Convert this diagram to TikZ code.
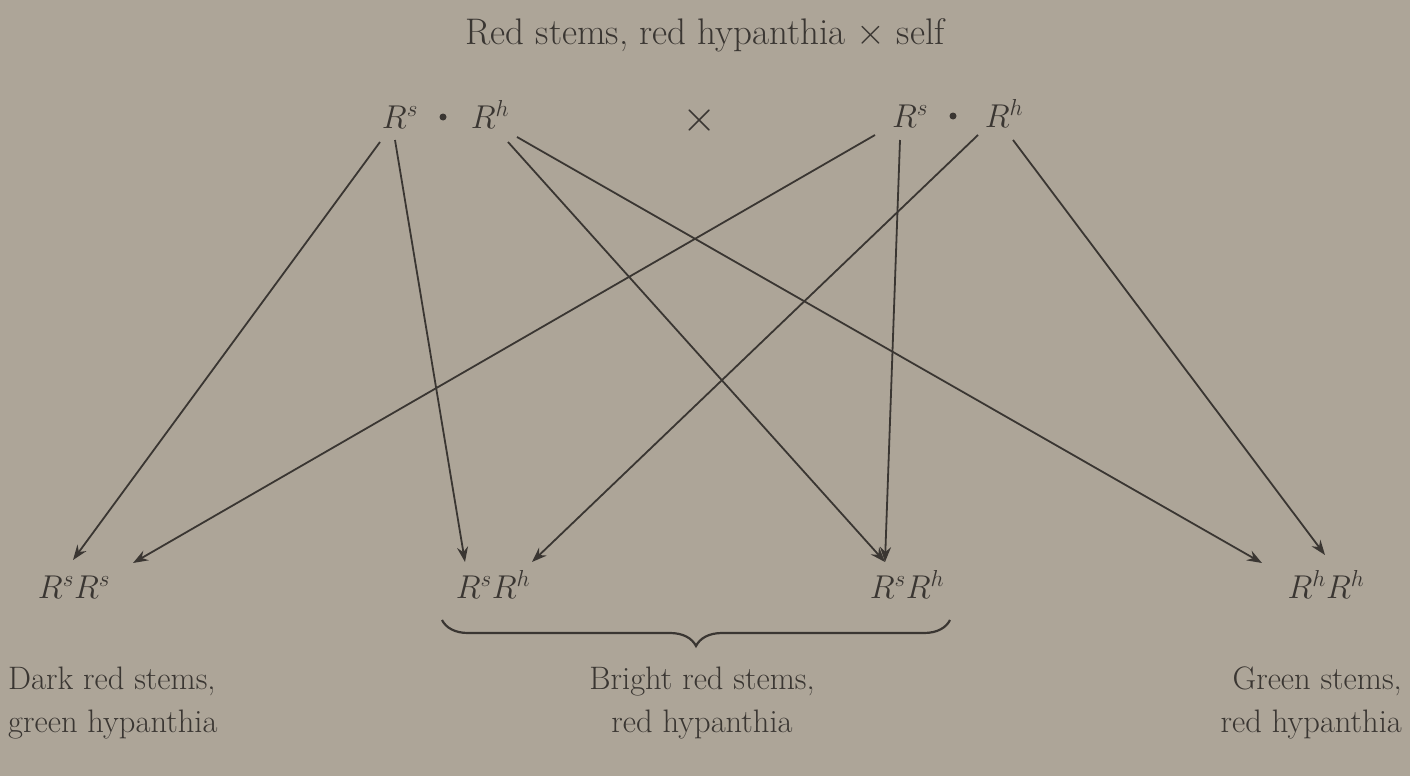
\RequirePackage{fix-cm}
\documentclass[tikz,border=0pt]{standalone}
\usetikzlibrary{arrows.meta,decorations.pathreplacing}
\definecolor{paper}{RGB}{173,165,152}
\definecolor{ink}{RGB}{58,54,50}
\begin{document}
\begin{tikzpicture}[x=1pt,y=-1pt,
  lab/.style={inner sep=0pt,anchor=base,text=ink,font=\fontsize{33}{33}\selectfont},
  txt/.style={inner sep=0pt,text=ink,font=\fontsize{32.5}{43}\selectfont,align=left},
  dotnode/.style={circle,fill=ink,inner sep=0pt,minimum size=7pt},
  arr/.style={draw=ink,line width=1.8pt,-{Stealth[length=15pt,width=11pt,inset=5pt]}}]
\useasboundingbox (0,0) rectangle (1410,776);
\fill[paper] (0,0) rectangle (1410,776);
% title
\node[inner sep=0pt,anchor=base,text=ink,font=\fontsize{37}{40}\selectfont] (title) at (705,45) {Red stems, red hypanthia $\times$ self};
% top parents
\node[lab] (tls) at (400,128) {$R^s$};
\node[dotnode] (tld) at (443,117) {};
\node[lab] (tlh) at (490,128) {$R^h$};
\node[lab,font=\fontsize{44}{44}\selectfont] (cross) at (700,131) {$\times$};
\node[lab] (trs) at (910,127) {$R^s$};
\node[dotnode] (trd) at (953,116) {};
\node[lab] (trh) at (1004,127) {$R^h$};
% bottom offspring
\node[lab] (bss) at (74,598) {$R^sR^s$};
\node[lab] (bls) at (493,598) {$R^sR^h$};
\node[lab] (brs) at (907,598) {$R^sR^h$};
\node[lab] (bhh) at (1326,598) {$R^hR^h$};
% arrows
\draw[arr] ([shift={(-20,14)}]tls.base) -- ([shift={(-1,-38)}]bss.base);
\draw[arr] ([shift={(-5,12)}]tls.base) -- ([shift={(-28,-36)}]bls.base);
\draw[arr] ([shift={(18,14)}]tlh.base) -- ([shift={(-22,-36)}]brs.base);
\draw[arr] ([shift={(27,9)}]tlh.base) -- ([shift={(-64,-35)}]bhh.base);
\draw[arr] ([shift={(-35,8)}]trs.base) -- ([shift={(59,-35)}]bss.base);
\draw[arr] ([shift={(-10,13)}]trs.base) -- ([shift={(-22,-36)}]brs.base);
\draw[arr] ([shift={(-26,8)}]trh.base) -- ([shift={(39,-36)}]bls.base);
\draw[arr] ([shift={(9,13)}]trh.base) -- ([shift={(-1,-43)}]bhh.base);
% brace
\coordinate (bl) at (442,620);
\coordinate (br) at (950,620);
\draw[ink,line width=2.2pt,decorate,decoration={brace,amplitude=26pt,mirror}] (bl) -- (br);
% bottom labels
\node[txt,anchor=north west] (dl) at (8,667) {Dark red stems,\\green hypanthia};
\node[txt,anchor=north,align=center] (bc) at (702,667) {Bright red stems,\\red hypanthia};
\node[txt,anchor=north east,align=right] (gr) at (1402,667) {Green stems,\\red hypanthia};
\end{tikzpicture}
\end{document}
